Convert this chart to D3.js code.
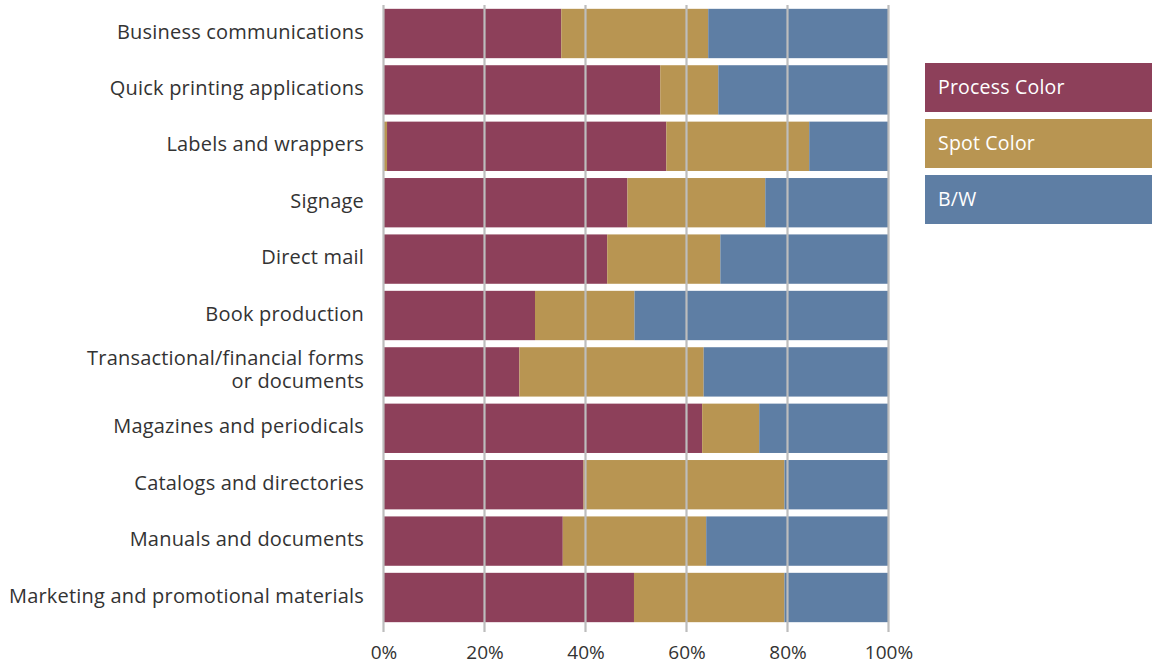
<!DOCTYPE html>
<html>
<head>
<meta charset="utf-8">
<script src="https://cdn.jsdelivr.net/npm/d3@7"></script>
<style>
  body { margin: 0; background: #fff; }
  svg text { font-family: "Open Sans", Lato, sans-serif; }
</style>
</head>
<body>
<svg id="chart" width="1155" height="664"></svg>
<script>
// Share of print work by colour type, per application (percent of total)
const categories = [
  "Business communications",
  "Quick printing applications",
  "Labels and wrappers",
  "Signage",
  "Direct mail",
  "Book production",
  "Transactional/financial forms\nor documents",
  "Magazines and periodicals",
  "Catalogs and directories",
  "Manuals and documents",
  "Marketing and promotional materials"
];
// small leading spot-colour share recorded ahead of process colour
const leadSpot =     [0,    0,    0.7,  0,    0,    0,    0,    0,    0,    0,    0];
const processColor = [35.2, 54.8, 55.3, 48.3, 44.3, 30.0, 26.9, 63.1, 39.6, 35.5, 49.6];
const spotColor =    [29.1, 11.5, 28.3, 27.3, 22.4, 19.7, 36.5, 11.3, 39.8, 28.4, 29.8];
const bw =           [35.7, 33.7, 15.7, 24.4, 33.3, 50.3, 36.6, 25.6, 20.6, 36.1, 20.6];
const seriesNames = ["Process Color", "Spot Color", "B/W"];
const tickValues = [0, 20, 40, 60, 80, 100];

const colors = { lead: "#b89552", process: "#8d405a", spot: "#b89552", bw: "#5e7ea4" };

const rows = categories.map((c, i) => ({
  category: c, lead: leadSpot[i], process: processColor[i], spot: spotColor[i], bw: bw[i]
}));

const svg = d3.select("#chart");
const x = d3.scaleLinear().domain([0, 100]).range([383.5, 888.5]);
const y = d3.scaleBand().domain(categories).range([5.3, 625.7]).paddingInner(0.125).paddingOuter(0.0625);

const stack = d3.stack().keys(["lead", "process", "spot", "bw"]);
const layers = stack(rows);

svg.append("g").selectAll("g")
  .data(layers)
  .join("g")
  .attr("fill", d => colors[d.key])
  .selectAll("rect")
  .data(d => d)
  .join("rect")
  .attr("x", d => x(d[0]))
  .attr("width", d => Math.max(0, x(d[1]) - x(d[0])))
  .attr("y", d => y(d.data.category))
  .attr("height", y.bandwidth());

// vertical gridlines drawn over the bars, extending to the tick labels
const grid = svg.append("g");
grid.selectAll("line")
  .data(tickValues)
  .join("line")
  .attr("x1", d => x(d)).attr("x2", d => x(d))
  .attr("y1", 5).attr("y2", 632)
  .attr("stroke", "#bdbdbd")
  .attr("stroke-width", 2.2);

// x-axis tick labels
const xAxis = d3.axisBottom(x).tickValues(tickValues).tickFormat(d => d + "%").tickSize(0).tickPadding(0);
const ax = svg.append("g").attr("transform", "translate(0,645)").call(xAxis);
ax.select(".domain").remove();
ax.selectAll("text")
  .attr("font-size", 19)
  .attr("fill", "#333")
  .attr("dy", "0.71em")
  .attr("font-family", "'Open Sans', sans-serif");

// category labels
const fs = 20;
const labels = svg.append("g").selectAll("text")
  .data(categories)
  .join("text")
  .attr("x", 364)
  .attr("y", d => y(d) + y.bandwidth() / 2 - 2)
  .attr("text-anchor", "end")
  .attr("font-size", fs)
  .attr("letter-spacing", 0.2)
  .attr("fill", "#333");
labels.each(function(d) {
  const lines = d.split("\n");
  const t = d3.select(this);
  const lh = 23;
  lines.forEach((ln, k) => {
    t.append("tspan")
      .attr("x", 364)
      .attr("dy", k === 0 ? ((0.35 * fs) - (lines.length - 1) * lh / 2) : lh)
      .text(ln);
  });
});

// legend
const legendColors = [colors.process, colors.spot, colors.bw];
const lg = svg.append("g").selectAll("g")
  .data(seriesNames)
  .join("g")
  .attr("transform", (d, i) => `translate(925,${63 + i * 56})`);
lg.append("rect").attr("width", 227).attr("height", 49).attr("fill", (d, i) => legendColors[i]);
lg.append("text")
  .attr("x", 13).attr("y", 24.5).attr("dy", "0.35em")
  .attr("font-size", 19.5).attr("letter-spacing", 0.2).attr("fill", "#fff")
  .text(d => d);
</script>
</body>
</html>
